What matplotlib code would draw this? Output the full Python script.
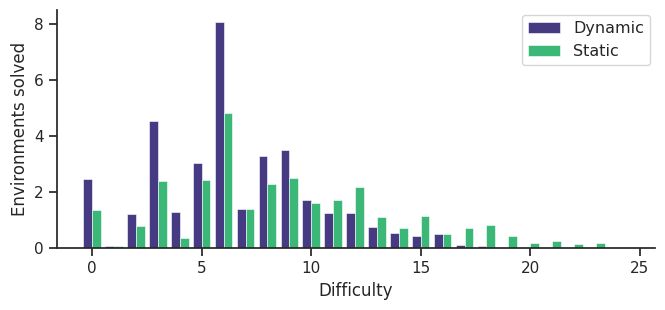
import numpy as np
import matplotlib.pyplot as plt

difficulty = np.arange(26)
dynamic = [2.45, 0.07, 1.2, 4.53, 1.27, 3.05, 8.08, 1.4, 3.27, 3.5,
           1.71, 1.26, 1.26, 0.74, 0.53, 0.44, 0.49, 0.11, 0.06, 0,
           0, 0, 0, 0, 0, 0]
static = [1.37, 0.07, 0.78, 2.4, 0.37, 2.43, 4.81, 1.4, 2.27, 2.5,
          1.61, 1.71, 2.16, 1.12, 0.7, 1.16, 0.49, 0.7, 0.82, 0.44,
          0.19, 0.26, 0.16, 0.19, 0, 0]

plt.rcParams['text.color'] = '#262626'
plt.rcParams['axes.labelcolor'] = '#262626'
plt.rcParams['xtick.color'] = '#262626'
plt.rcParams['ytick.color'] = '#262626'

fig = plt.figure(figsize=(6.65, 3.1), dpi=100)
ax = fig.add_axes([0.086, 0.2, 0.899, 0.768])

w = 0.4
ax.bar(difficulty - w/2, dynamic, width=w, color='#463a83', edgecolor='white', linewidth=0.4, label='Dynamic')
ax.bar(difficulty + w/2, static, width=w, color='#3bb878', edgecolor='white', linewidth=0.4, label='Static')

ax.set_xlim(-1.6, 25.7)
ax.set_ylim(0, 8.5)
ax.set_xticks([0, 5, 10, 15, 20, 25])
ax.set_yticks([0, 2, 4, 6, 8])
ax.set_xlabel('Difficulty', fontsize=12)
ax.set_ylabel('Environments solved', fontsize=12)
ax.tick_params(labelsize=11, width=1.25, length=6)
for s in ['top', 'right']:
    ax.spines[s].set_visible(False)
for s in ['left', 'bottom']:
    ax.spines[s].set_linewidth(1.25)
    ax.spines[s].set_color('#262626')

leg = ax.legend(fontsize=11.5, loc='upper right', fancybox=True, borderaxespad=0.3)
leg.get_frame().set_edgecolor('#cccccc')

fig.savefig('out.png', dpi=100)
